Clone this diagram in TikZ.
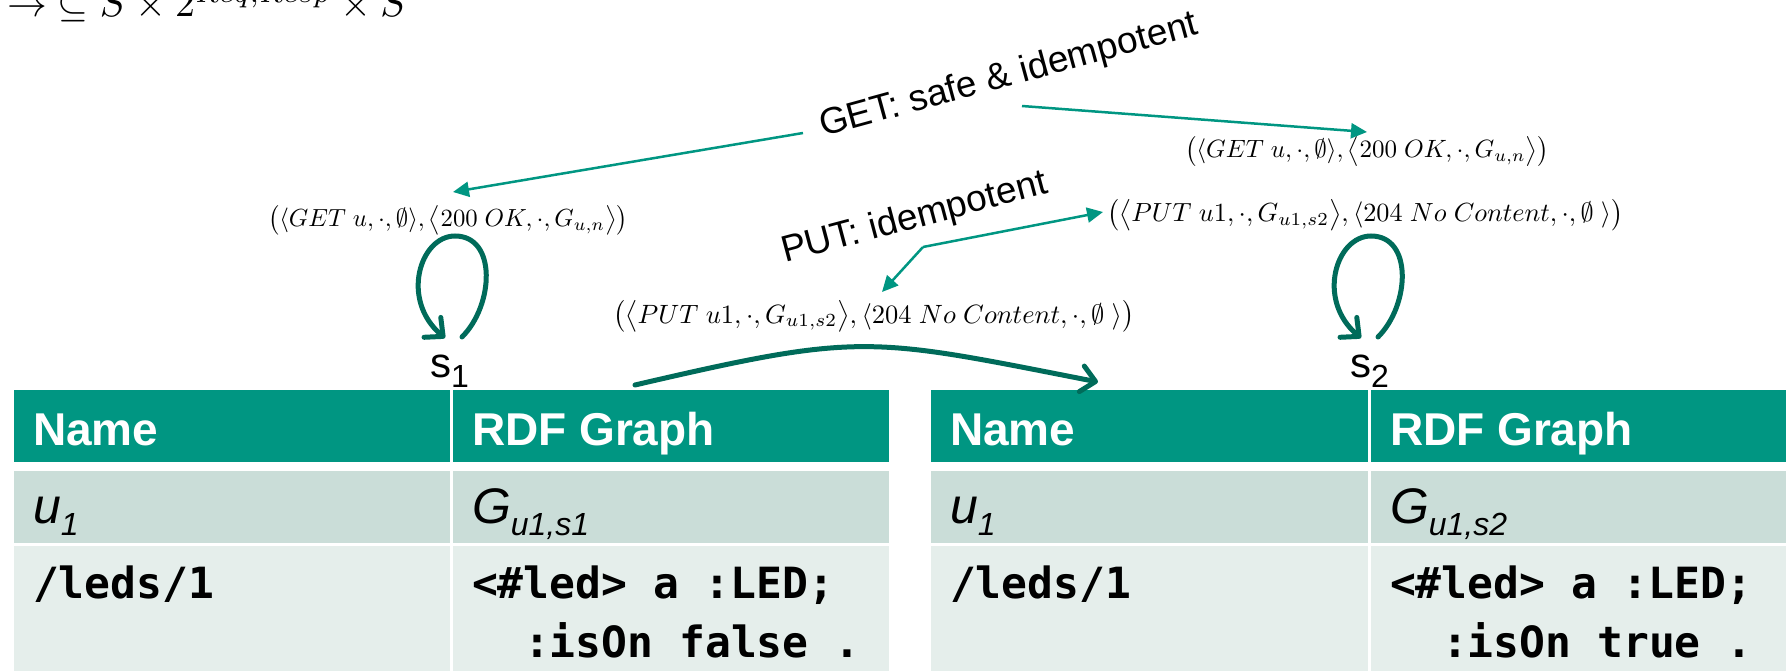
\documentclass[tikz,border=0pt]{standalone}
\usepackage[no-math]{fontspec}
\usepackage{graphicx}
\setmainfont{Liberation Sans}
\newfontfamily\codefont{DejaVu Sans Mono}
\usetikzlibrary{arrows.meta}

\definecolor{kitgreen}{RGB}{0,150,130}
\definecolor{arcgreen}{RGB}{0,107,90}
\definecolor{rowA}{RGB}{202,221,216}
\definecolor{rowB}{RGB}{229,238,235}

\newcommand\setfs[1]{\fontsize{#1pt}{#1pt}\selectfont}
% request/response pairs of the transitions
\newcommand\getpair{$\bigl(\langle GET\ u,\cdot,\emptyset\rangle,\bigl\langle 200\ OK,\cdot,G_{u,n}\bigr\rangle\bigr)$}
\newcommand\putpair{$\bigl(\bigl\langle PUT\ u1,\cdot,G_{u1,s2}\bigr\rangle,\langle 204\ No\ Content,\cdot,\emptyset\ \rangle\bigr)$}

\begin{document}
\begin{tikzpicture}[x=1pt,y=-1pt,
  every node/.style={inner sep=0pt,outer sep=0pt},
  hdr/.style={anchor=base west,text=white,font=\setfs{46}\bfseries},
  cell/.style={anchor=base west,font=\setfs{50}\itshape},
  code/.style={anchor=base west,font=\setfs{43}\codefont\bfseries},
  state/.style={anchor=base west,font=\setfs{42}},
  mathlbl/.style={anchor=base west},
  method/.style={anchor=base west,font=\setfs{37}},
  thinarrow/.style={draw=kitgreen,line width=2.5pt,-{Triangle[length=16pt,width=15pt]}},
  thickarrow/.style={draw=arcgreen,line width=5pt,line cap=round,
    -{Straight Barb[length=14pt,width=26pt,line width=5pt,round]}}]

\useasboundingbox (0,0) rectangle (1786,671);

% ---------- relation at the top ----------
\node[mathlbl] (rel) at (7,17)
  {\resizebox{400pt}{!}{$\rightarrow\ \subseteq S\times 2^{Req,Resp}\times S$}};

% ---------- table of state s1 ----------
\fill[kitgreen] (14,390) rectangle (450,462);
\fill[kitgreen] (453,390) rectangle (889,462);
\fill[rowA] (14,471) rectangle (450,543);
\fill[rowA] (453,471) rectangle (889,543);
\fill[rowB] (14,546) rectangle (450,671);
\fill[rowB] (453,546) rectangle (889,671);

\node[hdr] (t1name) at (33,445) {Name};
\node[hdr] (t1rdf) at (472,445) {RDF Graph};
\node[cell] (t1u) at (33,523) {u{\setfs{32}\raisebox{-12pt}{1}}};
\node[cell] (t1g) at (472,523) {G{\setfs{32}\raisebox{-12pt}{u1,s1}}};
\node[code] (t1res) at (33,598) {/leds/1};
\node[code] (t1l1) at (472,598) {<\#led> a :LED;};
\node[code] (t1l2) at (524,657) {:isOn false .};

% ---------- table of state s2 ----------
\fill[kitgreen] (931,390) rectangle (1368,462);
\fill[kitgreen] (1371,390) rectangle (1807,462);
\fill[rowA] (931,471) rectangle (1368,543);
\fill[rowA] (1371,471) rectangle (1807,543);
\fill[rowB] (931,546) rectangle (1368,671);
\fill[rowB] (1371,546) rectangle (1807,671);

\node[hdr] (t2name) at (950,445) {Name};
\node[hdr] (t2rdf) at (1390,445) {RDF Graph};
\node[cell] (t2u) at (950,523) {u{\setfs{32}\raisebox{-12pt}{1}}};
\node[cell] (t2g) at (1390,523) {G{\setfs{32}\raisebox{-12pt}{u1,s2}}};
\node[code] (t2res) at (950,598) {/leds/1};
\node[code] (t2l1) at (1390,598) {<\#led> a :LED;};
\node[code] (t2l2) at (1442,657) {:isOn true .};

% ---------- state names ----------
\node[state] (s1) at (430,377) {s{\setfs{32}\raisebox{-10pt}{1}}};
\node[state] (s2) at (1350,377) {s{\setfs{32}\raisebox{-10pt}{2}}};

% ---------- transition labels ----------
\node[mathlbl] (getL) at (268,227) {\resizebox{360pt}{!}{\getpair}};
\node[mathlbl] (getR) at (1185,158) {\resizebox{364pt}{!}{\getpair}};
\node[mathlbl] (putHi) at (1107,222) {\resizebox{516pt}{!}{\putpair}};
\node[mathlbl] (putLo) at (613,323) {\resizebox{521pt}{!}{\putpair}};

\node[method,rotate=15.3] (getTxt) at (823,137) {GET: safe \& idempotent};
\node[method,rotate=14.9] (putTxt) at (785,263) {PUT: idempotent};

% ---------- pointers from the method names ----------
\coordinate (getA) at (803,133);
\coordinate (getB) at (1022,106);
\coordinate (getLtip) at (453,192);
\coordinate (getRtip) at (1367,132);
\coordinate (putK) at (923,247);
\coordinate (putLtip) at (882,292);
\coordinate (putHtip) at (1103,212);
\draw[thinarrow] (getA) -- (getLtip);
\draw[thinarrow] (getB) -- (getRtip);
\draw[thinarrow] (putK) -- (putHtip);
\draw[thinarrow] (putK) -- (putLtip);

% ---------- transitions ----------
\coordinate (l1s) at (462,337);
\coordinate (l1e) at (445,338);
\draw[thickarrow] (l1s) .. controls (494,305) and (497,236) .. (455,236)
  .. controls (420,236) and (400,300) .. (l1e);
\coordinate (l2s) at (1378,337);
\coordinate (l2e) at (1361,338);
\draw[thickarrow] (l2s) .. controls (1410,305) and (1413,236) .. (1371,236)
  .. controls (1336,236) and (1316,300) .. (l2e);

\coordinate (arcS) at (635,385);
\coordinate (arcE) at (1098,382);
\draw[thickarrow] (arcS) .. controls (863,332) and (868,337) .. (arcE);

\end{tikzpicture}
\end{document}
